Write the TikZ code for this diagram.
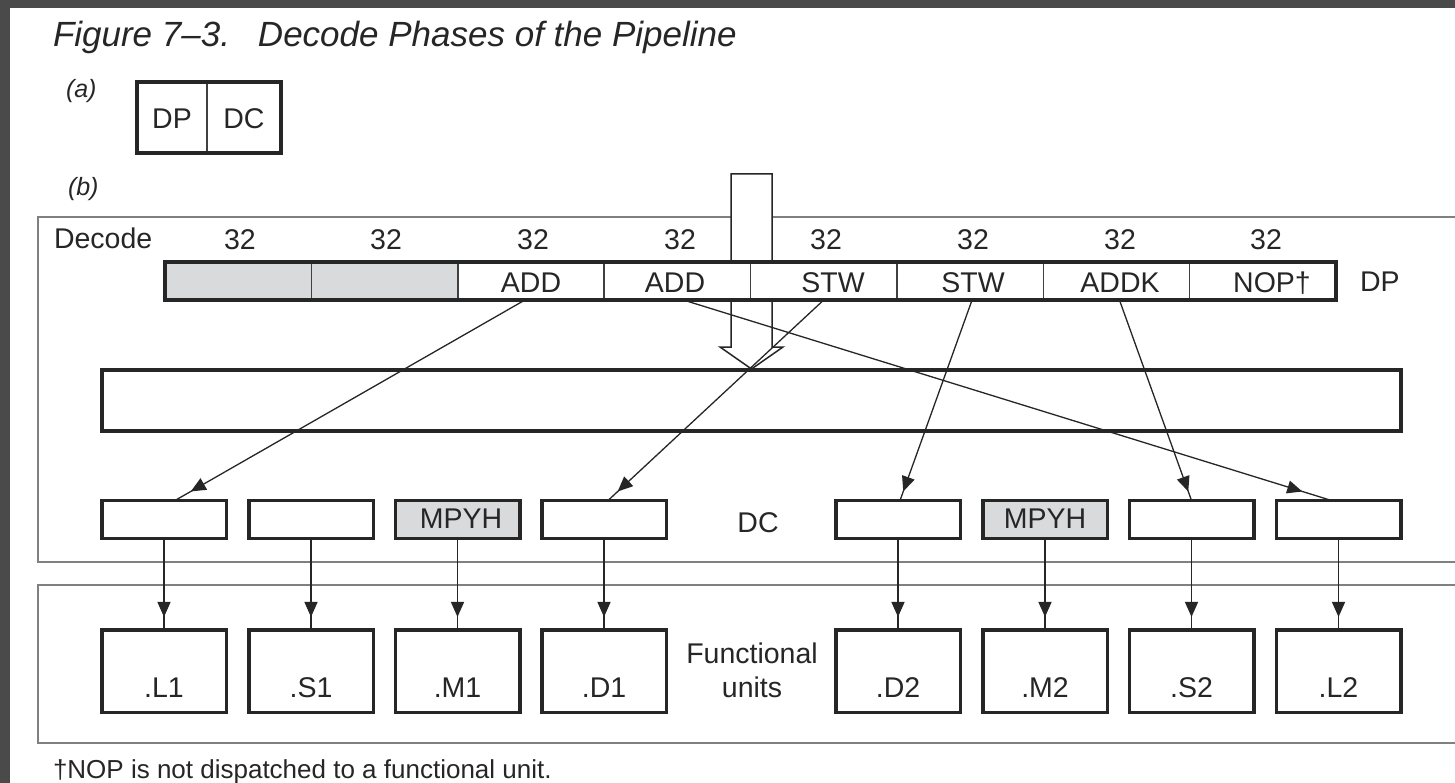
\documentclass[tikz,border=0pt]{standalone}
\usepackage{fontspec}
\setmainfont{Liberation Sans}
\usetikzlibrary{calc,arrows.meta,decorations.markings}
\definecolor{frame}{HTML}{4A4A4A}
\definecolor{cellgray}{HTML}{D9DADC}
\definecolor{secline}{HTML}{808080}
\definecolor{divline}{HTML}{404040}
\newcommand{\fsz}[1]{\fontsize{#1}{#1}\selectfont}
\begin{document}
\begin{tikzpicture}[x=1pt,y=-1pt,
  lab/.style={inner sep=0pt, outer sep=0pt, anchor=base, text=black!85, font=\fsz{28.5}},
  thickbox/.style={draw=black!85, line width=3.5pt, inner sep=0pt, outer sep=0pt, fill=white},
  dcbox/.style={thickbox, minimum width=124.5pt, minimum height=38pt},
  fubox/.style={thickbox, minimum width=124.5pt, minimum height=82.5pt},
  regcell/.style={draw=divline, line width=1.5pt, fill=white, inner sep=0pt, outer sep=0pt, minimum width=146.375pt, minimum height=38pt},
  section/.style={draw=secline, line width=2.2pt},
  conn/.style={draw=black!85, line width=1.3pt},
  tipat/.style={postaction={decorate}, decoration={markings, mark=at position #1 with {\arrow{Triangle[length=15pt,width=13pt]}}}},
]
\useasboundingbox (0,0) rectangle (1455,783);
\clip (0,0) rectangle (1455,783);
% frame
\fill[frame] (0,0) rectangle (1455,783);
\fill[white] (9.5,8.5) rectangle (1460,790);

% title and labels
\node[lab, anchor=base west, font=\fsz{35}\itshape] (title) at (53,47) {Figure 7–3.\hspace{0.8em}Decode Phases of the Pipeline};
\node[lab, anchor=base west, font=\fsz{25}\itshape] (la) at (66,98) {(a)};
\node[lab, anchor=base west, font=\fsz{25}\itshape] (lb) at (68,196) {(b)};

% (a) box
\node[regcell, minimum width=70pt, minimum height=71pt] (dpa) at (172,117.5) {};
\node[regcell, minimum width=74pt, minimum height=71pt] (dca) at (244,117.5) {};
\draw[draw=black!85, line width=3.5pt] (dpa.north west) rectangle (dca.south east);
\node[lab] (dpat) at (172,129) {DP};
\node[lab] (dcat) at (244,129) {DC};

% section boxes
\draw[section] (38,217) rectangle (1475,562);
\draw[section] (38,585) rectangle (1475,743);

% open arrow
\draw[draw=black!85, line width=1.5pt, fill=white, line join=miter]
  (731,174) -- (772,174) -- (772,347) -- (783,347) -- (751.5,369) -- (720,347) -- (731,347) -- cycle;

% DP register
\node[regcell, fill=cellgray] (c1) at (238.19,281) {};
\node[regcell, fill=cellgray] (c2) at (384.56,281) {};
\node[regcell] (c3) at (530.94,281) {};
\node[regcell] (c4) at (677.31,281) {};
\node[regcell] (c5) at (823.69,281) {};
\node[regcell] (c6) at (970.06,281) {};
\node[regcell] (c7) at (1116.44,281) {};
\node[regcell] (c8) at (1262.81,281) {};
\draw[draw=black!85, line width=3.5pt] (c1.north west) rectangle (c8.south east);

% bus box
\node[thickbox, fill=none, minimum width=1299pt, minimum height=61pt] (bus) at (751.5,400.5) {};

% DC boxes
\node[dcbox] (dc1) at (164,519.5) {};
\node[dcbox] (dc2) at (311,519.5) {};
\node[dcbox, fill=cellgray] (dc3) at (457.5,519.5) {};
\node[dcbox] (dc4) at (604,519.5) {};
\node[dcbox] (dc5) at (898,519.5) {};
\node[dcbox, fill=cellgray] (dc6) at (1045,519.5) {};
\node[dcbox] (dc7) at (1191.5,519.5) {};
\node[dcbox] (dc8) at (1338.5,519.5) {};

% FU boxes
\node[fubox] (fu1) at (164,671) {};
\node[fubox] (fu2) at (311,671) {};
\node[fubox] (fu3) at (457.5,671) {};
\node[fubox] (fu4) at (604,671) {};
\node[fubox] (fu5) at (898,671) {};
\node[fubox] (fu6) at (1045,671) {};
\node[fubox] (fu7) at (1191.5,671) {};
\node[fubox] (fu8) at (1338.5,671) {};

% diagonal connectors
\draw[conn, tipat=0.955] ($(c3.south)+(-6,0)$) -- ($(dc1.north)+(11,0)$);
\draw[conn, tipat=0.955] ($(c4.south)+(6,0)$) -- ($(dc8.north)+(-7,0)$);
\draw[conn, tipat=0.955] ($(c5.south)+(0,0)$) -- ($(dc4.north)+(4,0)$);
\draw[conn, tipat=0.955] ($(c6.south)+(2,0)$) -- ($(dc5.north)+(2,0)$);
\draw[conn, tipat=0.955] ($(c7.south)+(3,0)$) -- (dc7.north);

% vertical connectors
\foreach \k in {1,...,8}{
  \draw[conn, tipat=0.86] (dc\k.south) -- (fu\k.north);
}

% register texts
\node[lab] (w1) at (240,250) {32};
\node[lab] (w2) at (386,250) {32};
\node[lab] (w3) at (533,250) {32};
\node[lab] (w4) at (680,250) {32};
\node[lab] (w5) at (826,250) {32};
\node[lab] (w6) at (973,250) {32};
\node[lab] (w7) at (1120,250) {32};
\node[lab] (w8) at (1266,250) {32};
\node[lab] (t3) at (531,293) {ADD};
\node[lab] (t4) at (675,293) {ADD};
\node[lab] (t5) at (833,293) {STW};
\node[lab] (t6) at (973,293) {STW};
\node[lab] (t7) at (1120,293) {ADDK};
\node[lab] (t8) at (1272,293) {NOP†};
\node[lab, anchor=base west] (decode) at (54,249) {Decode};
\node[lab, anchor=base west] (dplab) at (1360,292) {DP};

% DC texts
\node[lab] (m3) at (461,528) {MPYH};
\node[lab] (m6) at (1045,528) {MPYH};
\node[lab] (dclab) at (758,532) {DC};

% FU texts
\node[lab] (u1) at (164,697) {.L1};
\node[lab] (u2) at (311,697) {.S1};
\node[lab] (u3) at (457.5,697) {.M1};
\node[lab] (u4) at (604,697) {.D1};
\node[lab] (u5) at (898,697) {.D2};
\node[lab] (u6) at (1045,697) {.M2};
\node[lab] (u7) at (1191.5,697) {.S2};
\node[lab] (u8) at (1338.5,697) {.L2};
\node[lab] (fl1) at (752,663) {Functional};
\node[lab] (fl2) at (752,697) {units};

% footnote
\node[lab, anchor=base west, font=\fsz{26}] (foot) at (53,778) {†NOP is not dispatched to a functional unit.};
\end{tikzpicture}
\end{document}
